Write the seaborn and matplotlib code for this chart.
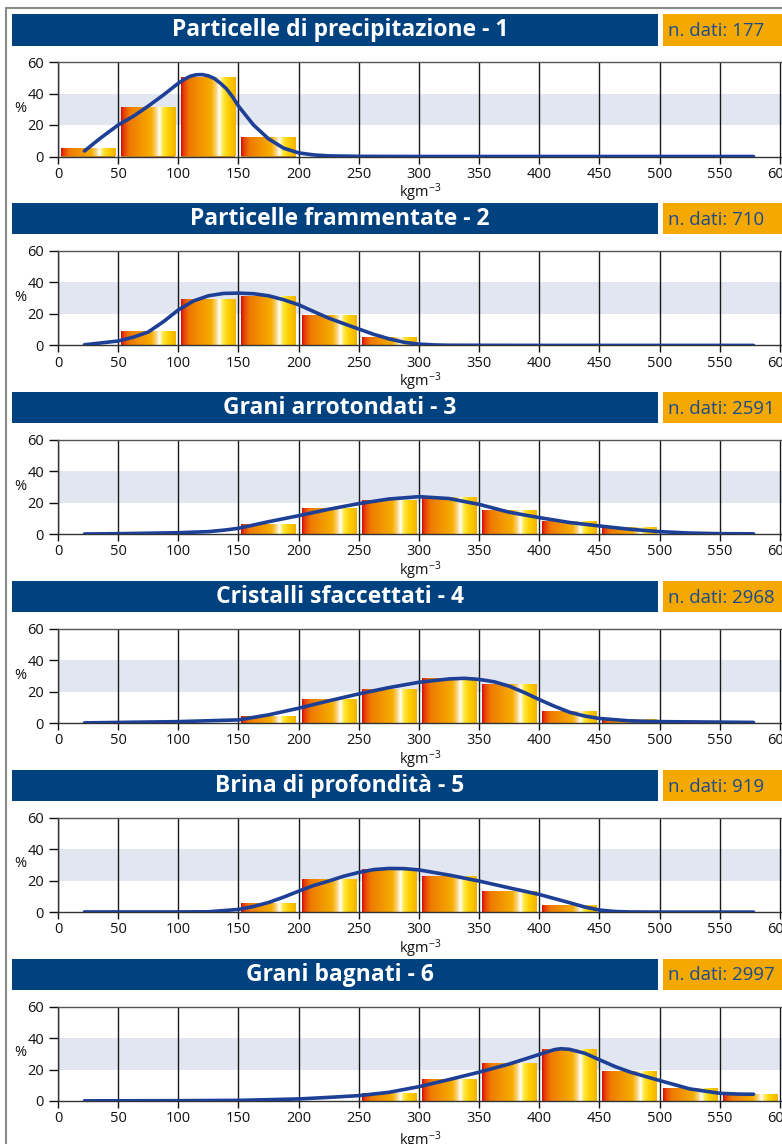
import numpy as np
import matplotlib
matplotlib.use("Agg")
import matplotlib.pyplot as plt
import seaborn as sns
from matplotlib.colors import LinearSegmentedColormap
from matplotlib.patches import Rectangle
from matplotlib.lines import Line2D

# --- data ---
titles = [
    "Particelle di precipitazione - 1",
    "Particelle frammentate - 2",
    "Grani arrotondati - 3",
    "Cristalli sfaccettati - 4",
    "Brina di profondità - 5",
    "Grani bagnati - 6",
]
n_dati = [177, 710, 2591, 2968, 919, 2997]

bin_centers = [25, 75, 125, 175, 225, 275, 325, 375, 425, 475, 525, 575]
x_ticks = [0, 50, 100, 150, 200, 250, 300, 350, 400, 450, 500, 550, 600]

freq_1 = [5.5, 31.5, 50.5, 12.5, 0, 0, 0, 0, 0, 0, 0, 0]
freq_2 = [0, 9, 29.5, 31.5, 19.5, 5.5, 0, 0, 0, 0, 0, 0]
freq_3 = [0, 0, 0, 6.7, 16.8, 21.8, 23.6, 15.4, 8.5, 4.6, 0, 0]
freq_4 = [0, 0, 0, 4.6, 15.4, 21.8, 28.8, 25, 7.9, 2.5, 0, 0]
freq_5 = [0, 0, 0, 6, 21.1, 27.5, 23, 13.5, 4.7, 0, 0, 0]
freq_6 = [0, 0, 0, 0, 0, 4.8, 13.7, 24, 32.8, 18.9, 8.1, 4.3]

curve_x_1 = [22, 35, 50, 62.5, 75, 87.5, 100, 105, 110, 115, 120, 125, 130, 135,
             140, 145, 150, 162.5, 175, 187.5, 200, 212.5, 225, 250, 300, 400,
             500, 578]
curve_y_1 = [3.5, 11.5, 20, 25.5, 32, 39, 46.5, 49, 51, 51.9, 52, 51.2, 49.5, 46.5,
             43, 38, 32, 20, 11.2, 5.3, 2.3, 1.0, 0.4, 0.1, 0, 0,
             0, 0]

curve_x_2 = [22, 35, 50, 62.5, 75, 87.5, 100, 112.5, 125, 137.5, 150, 162.5, 175,
             187.5, 200, 212.5, 225, 237.5, 250, 262.5, 275, 287.5, 300, 312.5,
             325, 400, 500, 578]
curve_y_2 = [0.4, 1.5, 2.8, 5.2, 8.5, 15, 22.5, 28.2, 31.5, 33, 33.2, 32.8, 31.5,
             29, 25.8, 21.5, 17.3, 13.8, 10.4, 7, 4.2, 2.0, 0.8, 0.3,
             0.1, 0, 0, 0]

curve_x_3 = [22, 50, 100, 125, 137.5, 150, 162.5, 175, 200, 225, 250, 275, 300,
             325, 350, 375, 400, 425, 450, 475, 500, 525, 550, 578]
curve_y_3 = [0.2, 0.4, 1.0, 1.7, 2.6, 3.8, 5.9, 8, 11.8, 15.9, 19.5, 22.4, 23.9,
             22.7, 19, 14, 10.6, 7.5, 5.3, 3.2, 1.7, 0.8, 0.4, 0.3]

curve_x_4 = [22, 100, 150, 175, 200, 225, 250, 275, 300, 325, 337.5, 350, 362.5,
             375, 387.5, 400, 412.5, 425, 437.5, 450, 475, 500, 578]
curve_y_4 = [0.2, 1.0, 2.1, 5.3, 9.5, 14.2, 18.6, 22.6, 26, 28.1, 28.5, 27.8, 26.3,
             23.5, 19.5, 15, 10.8, 7, 4.6, 3.0, 1.5, 1.0, 0.5]

curve_x_5 = [22, 100, 125, 150, 162.5, 175, 187.5, 200, 212.5, 225, 237.5, 250,
             262.5, 275, 287.5, 300, 325, 350, 375, 400, 425, 437.5, 450, 462.5,
             475, 500, 578]
curve_y_5 = [0.1, 0.1, 0.2, 1.7, 3.6, 6.1, 9.5, 13.3, 16.9, 19.7, 22.8, 25.2,
             27, 27.7, 27.6, 26.8, 23.5, 19.7, 15.4, 11.2, 6, 3.3, 1.3, 0.4,
             0.1, 0, 0]

curve_x_6 = [22, 100, 150, 200, 225, 250, 275, 300, 325, 350, 375, 387.5, 400,
             412.5, 418, 425, 437.5, 450, 462.5, 475, 500, 525, 550, 565, 578]
curve_y_6 = [0.1, 0.2, 0.4, 1.3, 2.3, 3.4, 5.5, 9.1, 13.6, 18.3, 23.5, 26.5, 29.6,
             32.6, 33.2, 32.8, 30.4, 26.2, 22, 18.5, 13, 7.7, 4.9, 4.4, 4.3]

freqs = [freq_1, freq_2, freq_3, freq_4, freq_5, freq_6]
curves = [(curve_x_1, curve_y_1), (curve_x_2, curve_y_2), (curve_x_3, curve_y_3),
          (curve_x_4, curve_y_4), (curve_x_5, curve_y_5), (curve_x_6, curve_y_6)]

# --- style ---
sns.set_theme(style="white")
plt.rcParams['font.family'] = ['Open Sans', 'DejaVu Sans']
plt.rcParams['mathtext.default'] = 'regular'

navy = '#00427f'
amber = '#f5a800'
curve_col = '#1e3f96'
band_col = '#e2e6f1'
bar_cmap = LinearSegmentedColormap.from_list('bar', [
    (0.0, '#d40a0a'), (0.05, '#e6400a'), (0.15, '#ef7800'), (0.35, '#f29400'),
    (0.55, '#f6ad00'), (0.64, '#fbd47a'), (0.70, '#ffffff'), (0.76, '#ffea4a'),
    (0.86, '#ffd000'), (1.0, '#f4b200')])
grad = np.linspace(0, 1, 256).reshape(1, -1)

W, H = 782, 1144
fig = plt.figure(figsize=(W / 100, H / 100), dpi=100)


def fx(px):
    return px / W


def fy(py):
    return 1 - py / H


# outer frame
fig.add_artist(Line2D([fx(6), fx(6)], [fy(8), 0], color='#8a8a8a', lw=1.5))
fig.add_artist(Line2D([fx(6), 1], [fy(8), fy(8)], color='#8a8a8a', lw=1.5))

step = 188.9
for i in range(6):
    off = i * step
    top = 14 + off
    fig.add_artist(Rectangle((fx(12), fy(top + 31.5)), fx(658) - fx(12), 31.5 / H,
                             facecolor=navy, lw=0))
    fig.add_artist(Rectangle((fx(663), fy(top + 31.5)), 1 - fx(663), 31.5 / H,
                             facecolor=amber, lw=0))
    fig.text(fx(340), fy(top + 16.5), titles[i], color='white', fontsize=16.5,
             fontweight='bold', ha='center', va='center')
    fig.text(fx(668), fy(top + 17), f"n. dati: {n_dati[i]}", color='#1a4b8c',
             fontsize=13.4, ha='left', va='center')

    bottom = 156.5 + off
    ax = fig.add_axes([fx(58), fy(bottom), 1 - fx(58), 94.5 / H])

    sns.barplot(x=bin_centers, y=freqs[i], native_scale=True, orient='x', width=0.9,
                color='#f29400', linewidth=0, errorbar=None, ax=ax, zorder=2)
    for p in ax.containers[0]:
        h = p.get_height()
        if h <= 0:
            continue
        x0, w = p.get_x(), p.get_width()
        im = ax.imshow(grad, cmap=bar_cmap, aspect='auto', interpolation='bilinear',
                       extent=(x0, x0 + w, 0, h), zorder=2.1)
        im.set_clip_path(p)

    cx, cy = curves[i]
    sns.lineplot(x=cx, y=cy, ax=ax, color=curve_col, lw=2.6, zorder=3)

    ax.axhspan(20, 40, color=band_col, lw=0, zorder=0.1)
    ax.set_axisbelow(True)
    ax.grid(False)
    ax.grid(axis='x', color='#1a1a1a', lw=1.0)
    ax.set_xlim(0, 601.7)
    ax.set_ylim(0, 60)
    ax.set_xticks(x_ticks)
    ax.set_yticks([0, 20, 40, 60])
    ax.tick_params(axis='x', bottom=True, direction='out', length=4.8, width=1,
                   pad=2.5, labelsize=10.5, colors='#111111')
    ax.tick_params(axis='y', left=True, direction='out', length=6.5, width=1,
                   pad=3.5, labelsize=10.5, colors='#111111')
    for s in ['left', 'bottom', 'top']:
        ax.spines[s].set_color('#333333')
        ax.spines[s].set_linewidth(1.0)
    ax.spines['top'].set_color('#555555')
    ax.spines['right'].set_visible(False)

    ax.set_xlabel('kgm$^{-3}$', fontsize=10.5, labelpad=0 if i < 5 else 2, color='#111111')
    ax.set_ylabel('%', rotation=0, fontsize=10.5, color='#111111', ha='center', va='center')
    ax.yaxis.set_label_coords(-38 / 724, 0.51)

fig.savefig('out.png', dpi=100)
